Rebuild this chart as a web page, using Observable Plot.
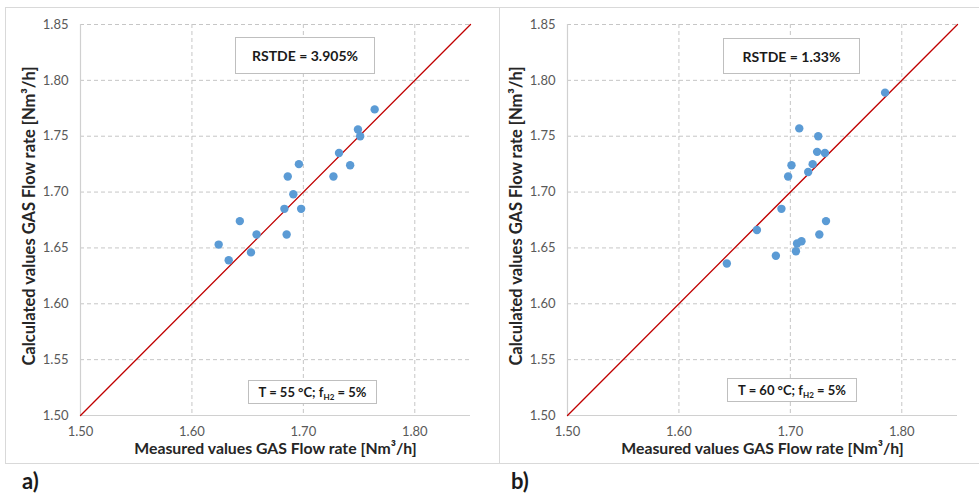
<!DOCTYPE html>
<html>
<head>
<meta charset="utf-8">
<script src="https://cdn.jsdelivr.net/npm/d3@7"></script>
<script src="https://cdn.jsdelivr.net/npm/@observablehq/plot@0.6"></script>
<style>
  body { margin: 0; background: #fff; font-family: Lato, "Open Sans", sans-serif; }
  #wrap { position: relative; width: 979px; height: 495px; overflow: hidden; }
  .frame { position: absolute; top: 7px; height: 455px; border: 1px solid #d9d9d9; box-sizing: content-box; }
  .chart { position: absolute; top: 0; }
  .note { position: absolute; box-sizing: border-box; border: 1px solid #bfbfbf; background: #fff;
          display: flex; align-items: center; justify-content: center; font-weight: bold; color: #1a1a1a; }
  .note sub { font-size: 0.62em; vertical-align: -0.35em; line-height: 0; }
  .tag { position: absolute; top: 467px; font-weight: bold; font-size: 22px; color: #1a1a1a; }
</style>
</head>
<body>
<div id="wrap">
  <div class="frame" style="left:5px;width:493px"></div>
  <div class="frame" style="left:499px;width:500px"></div>
</div>
<script>
// Panel a): T = 55 °C, f_H2 = 5 %
const measuredA   = [1.624, 1.633, 1.643, 1.653, 1.658, 1.683, 1.686, 1.685, 1.691, 1.696, 1.698, 1.727, 1.732, 1.742, 1.749, 1.751, 1.764];
const calculatedA = [1.653, 1.639, 1.674, 1.646, 1.662, 1.685, 1.714, 1.662, 1.698, 1.725, 1.685, 1.714, 1.735, 1.724, 1.756, 1.750, 1.774];

// Panel b): T = 60 °C, f_H2 = 5 %
const measuredB   = [1.643, 1.670, 1.687, 1.692, 1.698, 1.701, 1.705, 1.706, 1.708, 1.710, 1.716, 1.720, 1.724, 1.725, 1.726, 1.731, 1.732, 1.785];
const calculatedB = [1.636, 1.666, 1.643, 1.685, 1.714, 1.724, 1.647, 1.654, 1.757, 1.656, 1.718, 1.725, 1.736, 1.750, 1.662, 1.735, 1.674, 1.789];

// Axes
const xTicks = [1.50, 1.60, 1.70, 1.80];
const yTicks = [1.50, 1.55, 1.60, 1.65, 1.70, 1.75, 1.80, 1.85];
const axisRange = [1.50, 1.85];   // bisector y = x

const xTitle = "Measured values GAS Flow rate [Nm³/h]";
const yTitle = "Calculated values GAS Flow rate [Nm³/h]";

const panels = [
  { tag: "a)", measured: measuredA, calculated: calculatedA, rstde: "RSTDE = 3.905%", temp: "55",
    left: 0, width: 495, tagX: 22,
    top: { l: 235, t: 37, w: 140, h: 37 }, bottom: { l: 248, t: 380, w: 129, h: 24 } },
  { tag: "b)", measured: measuredB, calculated: calculatedB, rstde: "RSTDE = 1.33%", temp: "60",
    left: 487, width: 492, tagX: 511,
    top: { l: 723, t: 38, w: 137, h: 36 }, bottom: { l: 727, t: 378, w: 130, h: 24 } }
];

const wrap = document.getElementById("wrap");

for (const p of panels) {
  const pts = p.measured.map((m, i) => ({ m, c: p.calculated[i] }));
  const chart = Plot.plot({
    width: p.width,
    height: 463,
    marginLeft: 80,
    marginRight: p.width - 80 - 390,
    marginTop: 24,
    marginBottom: 48,
    style: { fontFamily: "Lato, 'Open Sans', sans-serif", background: "transparent", overflow: "visible" },
    x: { domain: axisRange },
    y: { domain: axisRange },
    marks: [
      Plot.gridX(xTicks.slice(1), { stroke: "#c6c6c6", strokeOpacity: 1, strokeDasharray: "4,3" }),
      Plot.gridY(yTicks.slice(1), { stroke: "#c6c6c6", strokeOpacity: 1, strokeDasharray: "4,3" }),
      Plot.ruleX([axisRange[0]], { stroke: "#d0d0d0", strokeWidth: 1.2 }),
      Plot.ruleY([axisRange[0]], { stroke: "#d0d0d0", strokeWidth: 1.2 }),
      Plot.axisX(xTicks, { tickSize: 0, tickPadding: 11, fontSize: 13, fill: "#595959",
                           tickFormat: d3.format(".2f"), label: null }),
      Plot.axisY(yTicks, { tickSize: 0, tickPadding: 12, fontSize: 13, fill: "#595959",
                           tickFormat: d3.format(".2f"), label: null }),
      Plot.line(axisRange, { x: d => d, y: d => d, stroke: "#c00000", strokeWidth: 1.3 }),
      Plot.dot(pts, { x: "m", y: "c", r: 4.2, fill: "#5b9bd5", stroke: "none" }),
      Plot.text([xTitle], { frameAnchor: "bottom", dy: 38, fontSize: 15.8, fontWeight: "bold", fill: "#262626" }),
      Plot.text([yTitle], { frameAnchor: "left", textAnchor: "middle", dx: -51, dy: -4, rotate: -90,
                            fontSize: 16.5, fontWeight: "bold", fill: "#262626" })
    ]
  });
  chart.classList.add("chart");
  chart.style.left = p.left + "px";
  wrap.appendChild(chart);

  const n1 = document.createElement("div");
  n1.className = "note";
  Object.assign(n1.style, { left: p.top.l + "px", top: p.top.t + "px", width: p.top.w + "px", height: p.top.h + "px", fontSize: "14px" });
  n1.innerHTML = `<span>${p.rstde}</span>`;
  wrap.appendChild(n1);

  const n2 = document.createElement("div");
  n2.className = "note";
  Object.assign(n2.style, { left: p.bottom.l + "px", top: p.bottom.t + "px", width: p.bottom.w + "px", height: p.bottom.h + "px", fontSize: "13px" });
  n2.innerHTML = `<span>T = ${p.temp} °C; f<sub>H2</sub> = 5%</span>`;
  wrap.appendChild(n2);

  const t = document.createElement("div");
  t.className = "tag";
  t.style.left = p.tagX + "px";
  t.textContent = p.tag;
  wrap.appendChild(t);
}
</script>
</body>
</html>
